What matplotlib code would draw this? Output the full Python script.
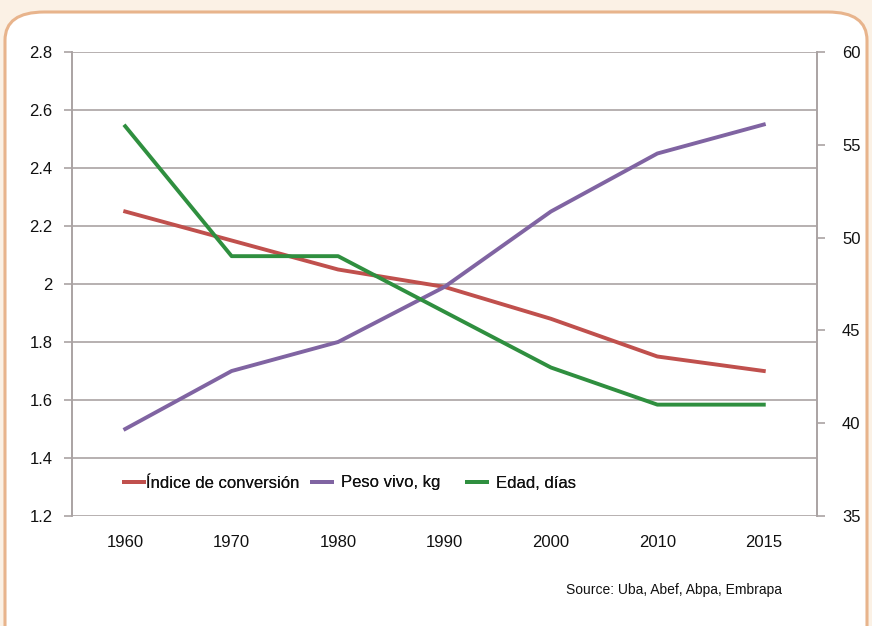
import matplotlib.pyplot as plt
from matplotlib.patches import FancyBboxPatch

# ---------- Data ----------
years = ["1960", "1970", "1980", "1990", "2000", "2010", "2015"]
conversion = [2.25, 2.15, 2.05, 1.99, 1.88, 1.75, 1.70]
live_weight = [1.50, 1.70, 1.80, 1.99, 2.25, 2.45, 2.55]
age_days = [56, 49, 49, 46, 43, 41, 41]

left_ticks = [1.2, 1.4, 1.6, 1.8, 2.0, 2.2, 2.4, 2.6, 2.8]
left_labels = ["1.2", "1.4", "1.6", "1.8", "2", "2.2", "2.4", "2.6", "2.8"]
right_ticks = [35, 40, 45, 50, 55, 60]

RED = "#c0504d"
PURPLE = "#8064a2"
GREEN = "#2f8f3f"
GRID = "#aaa3a3"
plt.rcParams['font.family'] = ["Liberation Sans", "DejaVu Sans"]
FS = 12

fig = plt.figure(figsize=(8.72, 6.26), dpi=100)
fig.patch.set_facecolor("#fbf1e5")

# rounded white frame behind everything
frame = FancyBboxPatch((5 / 872, -0.2), (862 / 872), 1 - 12 / 626 + 0.2,
                       boxstyle="round,pad=0,rounding_size=0.045",
                       transform=fig.transFigure, facecolor="white",
                       edgecolor="#e8b48c", linewidth=2.2, zorder=-10)
fig.patches.append(frame)

ax = fig.add_axes([72 / 872, 1 - 516 / 626, 745 / 872, 464 / 626])
ax.set_facecolor("none")
x = range(len(years))

ax.plot(x, conversion, color=RED, lw=2.8, label="Índice de conversión", zorder=3)
ax.plot(x, live_weight, color=PURPLE, lw=2.8, label="Peso vivo, kg", zorder=3)
ax.set_ylim(1.2, 2.8)
ax.set_xlim(-0.5, len(years) - 0.5)
ax.set_yticks(left_ticks)
ax.set_yticklabels(left_labels)
ax.set_xticks(list(x))
ax.set_xticklabels(years)

ax2 = ax.twinx()
ax2.plot(x, age_days, color=GREEN, lw=2.8, label="Edad, días", zorder=3)
ax2.set_ylim(35, 60)
ax2.set_yticks(right_ticks)

for a in (ax, ax2):
    for s in ("top", "bottom"):
        a.spines[s].set_visible(False)
    for s in ("left", "right"):
        a.spines[s].set_color(GRID)
        a.spines[s].set_linewidth(1.2)
    a.tick_params(axis="y", colors=GRID, labelcolor="#111111", labelsize=FS,
                  length=6, width=1.2)
ax.tick_params(axis="x", length=0, labelsize=FS, labelcolor="#111111", pad=14)
ax.grid(axis="y", color=GRID, lw=1.2, zorder=1)
ax.tick_params(axis="y", pad=8)
ax2.tick_params(axis="y", pad=12)

# legends
lines = ax.get_lines() + ax2.get_lines()
specs = [(124, 0.1), (312, 0.55), (467, 0.55)]
for line, (px, pad) in zip(lines, specs):
    lg = fig.legend([line], [line.get_label()], loc="center left",
                    bbox_to_anchor=(px / 872, 1 - 483 / 626), frameon=False,
                    fontsize=FS, handlelength=1.2, handletextpad=pad,
                    borderpad=0, borderaxespad=0, labelcolor="#111111")
    fig.add_artist(lg)

fig.text(782 / 872, 1 - 590 / 626, "Source: Uba, Abef, Abpa, Embrapa",
         ha="right", va="center", fontsize=10, color="#111111")

fig.savefig("out.png", dpi=100)
